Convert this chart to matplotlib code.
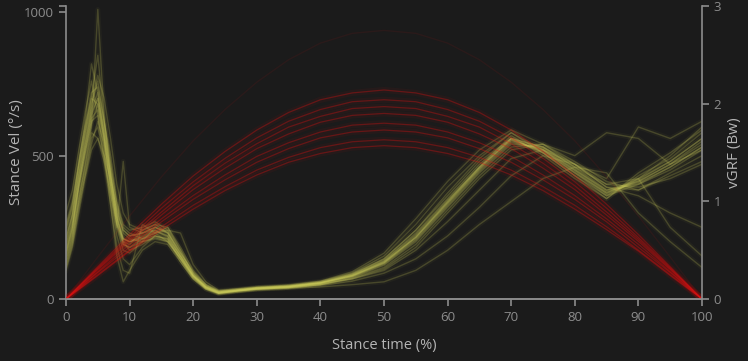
"""Stance velocity traces (left axis) with vGRF traces (right axis), dark style."""
import matplotlib
matplotlib.use("Agg")
import matplotlib.pyplot as plt

BG = "#1b1b1b"
AXIS = "#8c8c8c"
LABEL = "#b4b4b4"
YELLOW = "#cdcd5c"
RED = "#e01010"

plt.rcParams["font.family"] = ["Open Sans", "DejaVu Sans"]

# stance velocity (deg/s) sampled at these stance-time points
vel_x = [0, 1, 2, 3, 4, 5, 6, 7, 8, 9, 10, 12, 14, 16, 18, 20, 22, 24, 27, 30,
         35, 40, 45, 50, 55, 60, 65, 70, 75, 80, 85, 90, 95, 100]
vel_01 = [180, 260, 400, 520, 640, 700, 580, 430, 280, 210, 200, 220, 240, 215, 140, 75, 40, 22, 30, 38, 42, 55, 80, 125, 210, 330, 450, 550, 520, 450, 370, 410, 470, 540]
vel_02 = [140, 220, 340, 470, 600, 1010, 640, 420, 250, 170, 160, 200, 250, 230, 150, 80, 35, 20, 28, 35, 40, 52, 75, 118, 200, 320, 440, 540, 530, 460, 380, 400, 450, 520]
vel_03 = [250, 330, 470, 620, 820, 720, 560, 400, 280, 200, 190, 240, 260, 230, 160, 90, 45, 25, 32, 40, 45, 58, 85, 135, 230, 350, 470, 560, 510, 430, 360, 420, 480, 560]
vel_04 = [120, 200, 330, 440, 560, 600, 500, 360, 220, 140, 120, 180, 220, 210, 130, 70, 35, 18, 26, 34, 40, 50, 72, 110, 190, 310, 430, 530, 540, 470, 390, 380, 440, 500]
vel_05 = [200, 290, 440, 580, 700, 850, 620, 470, 330, 250, 230, 210, 230, 250, 170, 85, 42, 24, 30, 37, 43, 57, 82, 128, 220, 340, 460, 570, 500, 420, 350, 430, 490, 580]
vel_06 = [160, 240, 390, 510, 620, 640, 520, 330, 180, 100, 90, 260, 230, 200, 140, 78, 38, 21, 29, 36, 42, 54, 78, 122, 205, 325, 445, 545, 525, 455, 375, 405, 460, 530]
vel_07 = [300, 380, 520, 650, 760, 640, 480, 370, 260, 210, 200, 210, 220, 205, 145, 80, 40, 22, 30, 38, 44, 60, 90, 150, 260, 390, 500, 580, 520, 440, 370, 420, 500, 600]
vel_08 = [130, 210, 350, 460, 580, 560, 500, 420, 300, 240, 220, 230, 250, 230, 160, 95, 50, 28, 30, 35, 40, 48, 62, 90, 140, 220, 320, 430, 500, 470, 400, 390, 420, 470]
vel_09 = [110, 190, 320, 430, 540, 620, 540, 400, 260, 190, 180, 200, 210, 200, 140, 80, 45, 25, 30, 34, 38, 42, 50, 60, 100, 170, 260, 340, 420, 460, 440, 300, 200, 110]
vel_10 = [220, 300, 460, 580, 680, 760, 620, 500, 340, 260, 240, 250, 270, 240, 170, 90, 45, 25, 33, 40, 48, 62, 95, 160, 280, 410, 520, 590, 540, 500, 580, 560, 470, 520]
vel_11 = [170, 250, 400, 520, 630, 660, 550, 380, 250, 480, 250, 230, 240, 220, 150, 80, 40, 22, 30, 37, 43, 55, 80, 128, 215, 335, 455, 555, 520, 450, 380, 410, 470, 550]
vel_12 = [190, 270, 420, 540, 650, 700, 580, 440, 290, 210, 200, 215, 235, 220, 150, 82, 42, 23, 30, 38, 44, 56, 82, 130, 215, 335, 455, 560, 530, 460, 400, 420, 250, 150]
vel_13 = [240, 320, 470, 600, 720, 740, 620, 460, 320, 240, 220, 230, 250, 235, 160, 85, 40, 21, 29, 37, 43, 56, 83, 132, 225, 345, 460, 555, 515, 445, 365, 415, 480, 560]
vel_14 = [150, 230, 380, 500, 610, 680, 560, 400, 270, 190, 180, 210, 230, 240, 230, 120, 60, 30, 35, 40, 46, 58, 88, 140, 240, 360, 480, 560, 510, 440, 360, 400, 460, 530]
vel_15 = [100, 180, 300, 420, 520, 560, 480, 330, 150, 60, 100, 170, 200, 190, 130, 70, 35, 20, 28, 34, 40, 50, 70, 105, 180, 300, 420, 520, 540, 480, 410, 380, 430, 480]
vel_16 = [210, 290, 430, 560, 670, 780, 700, 560, 400, 300, 260, 240, 260, 250, 180, 100, 50, 26, 32, 38, 44, 56, 80, 125, 215, 340, 460, 560, 530, 470, 420, 600, 560, 620]
vel_17 = [160, 250, 400, 540, 660, 720, 600, 440, 290, 200, 170, 190, 220, 210, 150, 82, 42, 22, 30, 36, 42, 52, 70, 100, 170, 270, 380, 490, 520, 470, 390, 360, 300, 250]
vel_18 = [260, 340, 480, 600, 700, 680, 560, 430, 310, 230, 210, 200, 215, 200, 140, 75, 38, 20, 28, 36, 42, 56, 85, 140, 240, 370, 490, 580, 510, 430, 350, 440, 510, 590]
vel_traces = [vel_01, vel_02, vel_03, vel_04, vel_05, vel_06, vel_07, vel_08, vel_09,
              vel_10, vel_11, vel_12, vel_13, vel_14, vel_15, vel_16, vel_17, vel_18]

# vertical ground reaction force (body weights)
grf_x = list(range(0, 101, 5))
grf_01 = [0, .33, .66, .97, 1.26, 1.51, 1.73, 1.91, 2.04, 2.11, 2.14, 2.11, 2.04, 1.91, 1.73, 1.51, 1.26, .97, .66, .33, 0]
grf_02 = [0, .32, .63, .93, 1.20, 1.44, 1.65, 1.82, 1.94, 2.02, 2.04, 2.02, 1.94, 1.82, 1.65, 1.44, 1.20, .93, .63, .32, 0]
grf_03 = [0, .31, .61, .89, 1.16, 1.39, 1.59, 1.76, 1.87, 1.95, 1.97, 1.95, 1.87, 1.76, 1.59, 1.39, 1.16, .89, .61, .31, 0]
grf_04 = [0, .30, .59, .86, 1.12, 1.34, 1.54, 1.69, 1.81, 1.88, 1.90, 1.88, 1.81, 1.69, 1.54, 1.34, 1.12, .86, .59, .30, 0]
grf_05 = [0, .28, .56, .82, 1.06, 1.27, 1.46, 1.60, 1.71, 1.78, 1.80, 1.78, 1.71, 1.60, 1.46, 1.27, 1.06, .82, .56, .28, 0]
grf_06 = [0, .27, .53, .79, 1.02, 1.22, 1.40, 1.54, 1.65, 1.71, 1.73, 1.71, 1.65, 1.54, 1.40, 1.22, 1.02, .79, .53, .27, 0]
grf_07 = [0, .25, .50, .74, .96, 1.15, 1.32, 1.45, 1.55, 1.61, 1.63, 1.61, 1.55, 1.45, 1.32, 1.15, .96, .74, .50, .25, 0]
grf_08 = [0, .24, .49, .71, .92, 1.11, 1.27, 1.40, 1.49, 1.55, 1.57, 1.55, 1.49, 1.40, 1.27, 1.11, .92, .71, .49, .24, 0]
grf_09 = [0, .43, .85, 1.25, 1.62, 1.94, 2.22, 2.45, 2.62, 2.72, 2.75, 2.72, 2.62, 2.45, 2.22, 1.94, 1.62, 1.25, .85, .43, 0]
grf_traces = [grf_01, grf_02, grf_03, grf_04, grf_05, grf_06, grf_07, grf_08]
grf_faint = [grf_09]

x_ticks = list(range(0, 101, 10))
vel_ticks = [0, 500, 1000]
grf_ticks = [0, 1, 2, 3]
VEL_TOP = 1022   # left domain end (slightly above the 1000 tick)

fig = plt.figure(figsize=(7.48, 3.61), dpi=100, facecolor=BG)
ax = fig.add_axes([66 / 748, 62 / 361, 636 / 748, 293 / 361], facecolor=BG)
ax2 = ax.twinx()

for tr in vel_traces:
    ax.plot(vel_x, tr, color=YELLOW, lw=3.5, alpha=0.045, solid_joinstyle="round")
    ax.plot(vel_x, tr, color=YELLOW, lw=1.0, alpha=0.22, solid_joinstyle="round")

for tr in grf_traces:
    ax2.plot(grf_x, tr, color=RED, lw=4.5, alpha=0.05)
    ax2.plot(grf_x, tr, color=RED, lw=0.9, alpha=0.35)
for tr in grf_faint:
    ax2.plot(grf_x, tr, color=RED, lw=1.0, alpha=0.08)

ax.set_xlim(0, 100)
ax.set_ylim(0, VEL_TOP)
ax2.set_ylim(0, 3)
ax.set_xticks(x_ticks)
ax.set_yticks(vel_ticks)
ax.set_yticks([VEL_TOP], minor=True)   # d3-style outer tick at the domain end
ax2.set_yticks(grf_ticks)

for a in (ax, ax2):
    a.spines["top"].set_visible(False)
    for side in ("left", "right", "bottom"):
        a.spines[side].set_color(AXIS)
        a.spines[side].set_linewidth(1.2)
    a.tick_params(colors=AXIS, labelcolor=AXIS, labelsize=9.5, length=5, width=1.2)
ax.tick_params(axis="y", which="minor", colors=AXIS, length=5, width=1.2)
ax2.spines["left"].set_visible(False)
ax.spines["right"].set_visible(False)

ax.set_xlabel("Stance time (%)", color=LABEL, fontsize=10.5, labelpad=10)
ax.set_ylabel("Stance Vel (°/s)", color=LABEL, fontsize=11, labelpad=0)
ax2.set_ylabel("vGRF (Bw)", color=LABEL, fontsize=11, rotation=90, labelpad=4)

fig.savefig("out.png", dpi=100, facecolor=BG)
